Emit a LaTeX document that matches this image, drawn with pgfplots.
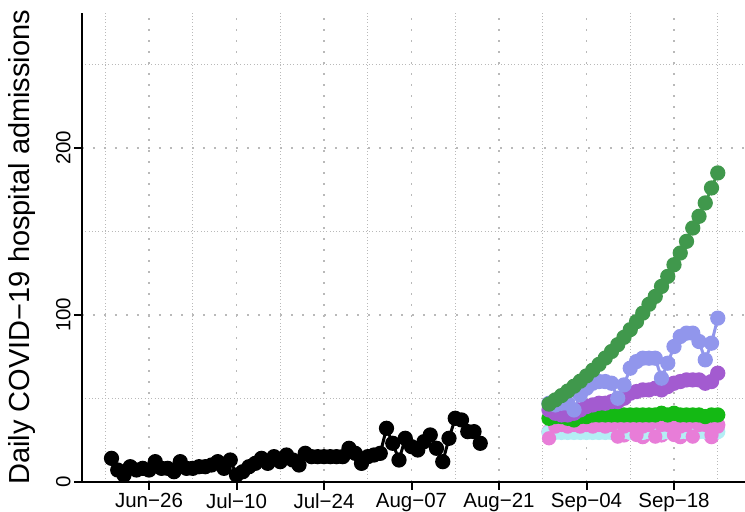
\documentclass[border=0pt]{standalone}
\usepackage{fontspec}
\setmainfont{Liberation Sans}
\usepackage{pgfplots}
\usepackage{pgfplotstable}
\pgfplotsset{compat=1.18}
\definecolor{obs}{RGB}{0,0,0}
\definecolor{dgreen}{RGB}{64,152,76}
\definecolor{lblue}{RGB}{145,150,236}
\definecolor{purp}{RGB}{163,91,208}
\definecolor{bgreen}{RGB}{20,185,20}
\definecolor{pinkc}{RGB}{232,125,216}
\definecolor{cyanc}{RGB}{180,238,245}

\pgfplotstableread{
day val
-6 14
-5 7
-4 4
-3 9
-2 7
-1 8
0 7
1 12
2 8
3 8
4 6
5 12
6 8
7 8
8 9
9 9
10 10
11 12
12 8
13 13
14 4
15 6
16 9
17 11
18 14
19 11
20 15
21 12
22 16
23 13
24 10
25 17
26 15
27 15
28 15
29 15
30 15
31 15
32 20
33 17
34 11
35 15
36 16
37 17
38 32
39 23
40 13
41 26
42 21
43 19
44 24
45 28
46 20
47 12
48 26
49 38
50 37
51 30
52 30
53 23
}\obsdata

\pgfplotstableread{
day dg lb pu bg pa pb cy
64 46.5 47 43 38 26 30 29.5
65 49 46 41 39 33 32 29.5
66 51.6 47 40 39 34 33 29.5
67 54.3 47 40 38 33 32 29.5
68 57.2 43 41 37 34 33 29.5
69 60.2 52 43 39 33 34 29.5
70 63.4 56 45 39 34 33 29.5
71 66.8 59 46 40 33 32 29.5
72 70.3 60 47 40 34 33 29.5
73 74.1 60 47 40 33 34 29.5
74 78 59 48 40 34 33 29.5
75 82.1 50 48 40 27 34 29.5
76 86.5 58 50 40 33 28 30
77 91.1 68 53 40 34 33 29.5
78 95.9 72 54 40 28 34 30
79 101 74 55 40 33 27 29.5
80 106.3 74 55 40 34 33 30
81 111 74 56 40 27 34 30
82 117 62 55 41 34 28 29.5
83 123 71 57 40 34 34 30
84 130 81 59 41 28 33 29.5
85 137 87 60 40 33 27 30
86 144 89 61 40 34 34 30
87 152 89 61 40 27 29 29.5
88 159 84 61 40 34 33 30
89 167 73 59 39 34 34 30
90 176 83 60 40 28 27 29.5
91 185 98 65 40 33 34 30
}\projdata

\begin{document}
\begin{tikzpicture}
\path[use as bounding box] (-82bp,-30.3bp) rectangle (663bp,481.7bp);
\begin{axis}[
  at={(0,0)}, anchor=south west,
  scale only axis, width=663bp, height=469bp,
  xmin=-10.72, xmax=95.36, ymin=0, ymax=281,
  axis lines=left,
  axis line style={-, line width=2.2bp, black},
  xtick={0,14,28,42,56,70,84},
  xticklabels={Jun−26,Jul−10,Jul−24,Aug−07,Aug−21,Sep−04,Sep−18},
  minor xtick={-7,7,21,35,49,63,77,91},
  ytick={0,100,200},
  yticklabels={0,100,200},
  minor ytick={50,150,250},
  tick align=outside,
  major tick length=8bp, minor tick length=0pt,
  tick style={line width=2bp, black},
  grid=both,
  major grid style={line width=1.6bp, gray!55, dash pattern=on 1.6bp off 9.4bp},
  minor grid style={line width=0.7bp, gray!55, dash pattern=on 0.7bp off 2.6bp},
  ticklabel style={font=\fontsize{20.5bp}{24bp}\selectfont},
  /pgf/number format/assume math mode=true,
  yticklabel style={rotate=90, anchor=south},
  xticklabel style={anchor=north},
  every axis y label/.style={at={(axis description cs:-0.0905,0.5)}, rotate=90, anchor=center, font=\fontsize{29bp}{34bp}\selectfont},
  ylabel={Daily COVID−19 hospital admissions},
  every axis plot/.append style={line width=3bp, mark=*, mark size=6.1bp},
]
\addplot[obs, mark options={fill=obs, draw=obs}] table[x=day,y=val]{\obsdata};
\addplot[pinkc, mark options={fill=pinkc, draw=pinkc}] table[x=day,y=pb]{\projdata};
\addplot[cyanc, mark options={fill=cyanc, draw=cyanc}] table[x=day,y=cy]{\projdata};
\addplot[pinkc, line width=2bp, mark options={fill=pinkc, draw=pinkc}] table[x=day,y=pa]{\projdata};
\addplot[bgreen, mark options={fill=bgreen, draw=bgreen}] table[x=day,y=bg]{\projdata};
\addplot[purp, mark options={fill=purp, draw=purp}] table[x=day,y=pu]{\projdata};
\addplot[lblue, mark options={fill=lblue, draw=lblue}] table[x=day,y=lb]{\projdata};
\addplot[dgreen, mark options={fill=dgreen, draw=dgreen}] table[x=day,y=dg]{\projdata};
\end{axis}
\end{tikzpicture}
\end{document}
